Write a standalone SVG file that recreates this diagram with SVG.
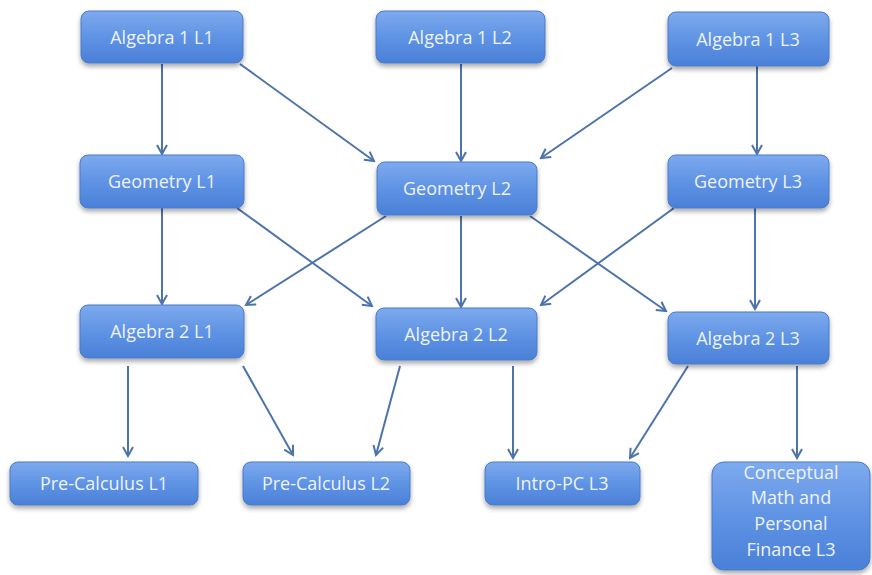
<svg xmlns="http://www.w3.org/2000/svg" width="872" height="575" viewBox="0 0 872 575">
<defs>
<linearGradient id="g" x1="0" y1="0" x2="0" y2="1">
<stop offset="0" stop-color="#7eaaee"/>
<stop offset="0.5" stop-color="#5f93e4"/>
<stop offset="1" stop-color="#4a80d8"/>
</linearGradient>
<filter id="sh" x="-10%" y="-10%" width="120%" height="140%">
<feGaussianBlur in="SourceAlpha" stdDeviation="2.5"/>
<feOffset dx="0" dy="3" result="b"/>
<feComponentTransfer><feFuncA type="linear" slope="0.35"/></feComponentTransfer>
<feMerge><feMergeNode/><feMergeNode in="SourceGraphic"/></feMerge>
</filter>
<marker id="ah" viewBox="0 0 12 12" refX="10" refY="6" markerWidth="12" markerHeight="12" markerUnits="userSpaceOnUse" orient="auto">
<path d="M1,1 L10,6 L1,11" fill="none" stroke="#4d73ab" stroke-width="2"/>
</marker>
</defs>
<style>
rect.n{fill:url(#g);stroke:#4a7bc8;stroke-width:1;filter:url(#sh)}
text{font-family:"Open Sans","DejaVu Sans",sans-serif;font-size:18px;fill:#eef3fb;text-anchor:middle}
.c line{stroke:#4d73ab;stroke-width:2;marker-end:url(#ah)}
</style>
<rect width="872" height="575" fill="#ffffff"/>
<g class="c" id="connectors">
<line x1="162" y1="64" x2="162" y2="154"/>
<line x1="240" y1="64" x2="374" y2="161"/>
<line x1="461" y1="64" x2="461" y2="161"/>
<line x1="672" y1="68" x2="541" y2="158"/>
<line x1="757" y1="66" x2="757" y2="154"/>
<line x1="162" y1="208" x2="162" y2="304"/>
<line x1="237" y1="208" x2="372" y2="306"/>
<line x1="386" y1="216" x2="246" y2="305"/>
<line x1="461" y1="216" x2="461" y2="307"/>
<line x1="530" y1="216" x2="666" y2="311"/>
<line x1="674" y1="208" x2="541" y2="305"/>
<line x1="755" y1="208" x2="755" y2="309"/>
<line x1="128" y1="366" x2="128" y2="456"/>
<line x1="243" y1="366" x2="293" y2="455"/>
<line x1="400" y1="366" x2="376" y2="455"/>
<line x1="513" y1="366" x2="513" y2="458"/>
<line x1="688" y1="366" x2="630" y2="458"/>
<line x1="797" y1="366" x2="797" y2="458"/>
</g>
<g id="alg1l1"><rect class="n" x="81" y="11" width="162" height="52" rx="8"/><text x="162" y="44">Algebra 1 L1</text></g>
<g id="alg1l2"><rect class="n" x="376" y="11" width="169" height="52" rx="8"/><text x="460" y="44">Algebra 1 L2</text></g>
<g id="alg1l3"><rect class="n" x="668" y="12" width="161" height="54" rx="8"/><text x="748" y="46">Algebra 1 L3</text></g>
<g id="geo1"><rect class="n" x="80" y="155" width="164" height="53" rx="8"/><text x="162" y="188">Geometry L1</text></g>
<g id="geo2"><rect class="n" x="377" y="162" width="160" height="53" rx="8"/><text x="457" y="195">Geometry L2</text></g>
<g id="geo3"><rect class="n" x="668" y="155" width="161" height="53" rx="8"/><text x="748" y="188">Geometry L3</text></g>
<g id="alg2l1"><rect class="n" x="80" y="305" width="164" height="53" rx="8"/><text x="162" y="338">Algebra 2 L1</text></g>
<g id="alg2l2"><rect class="n" x="376" y="308" width="161" height="52" rx="8"/><text x="456" y="341">Algebra 2 L2</text></g>
<g id="alg2l3"><rect class="n" x="668" y="312" width="161" height="52" rx="8"/><text x="748" y="345">Algebra 2 L3</text></g>
<g id="pc1"><rect class="n" x="10" y="462" width="188" height="43" rx="8"/><text x="104" y="490">Pre-Calculus L1</text></g>
<g id="pc2"><rect class="n" x="243" y="462" width="167" height="43" rx="8"/><text x="326" y="490">Pre-Calculus L2</text></g>
<g id="intro"><rect class="n" x="485" y="462" width="155" height="43" rx="8"/><text x="562" y="490">Intro-PC L3</text></g>
<g id="cmpf"><rect class="n" x="712" y="462" width="158" height="108" rx="12"/>
<text x="791" y="479">Conceptual</text><text x="791" y="504">Math and</text><text x="791" y="530">Personal</text><text x="791" y="556">Finance L3</text></g>
</svg>
